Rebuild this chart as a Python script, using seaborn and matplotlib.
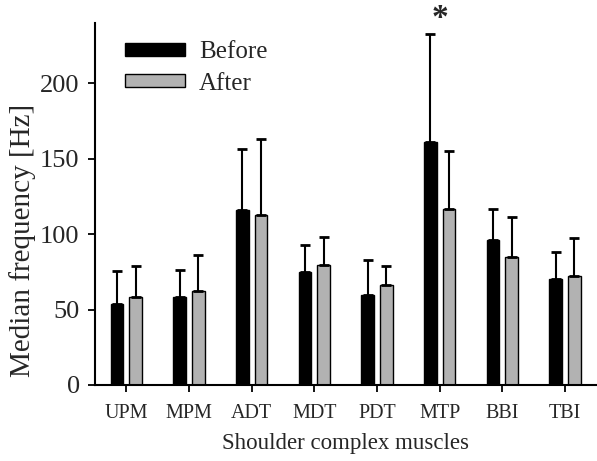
import numpy as np
import pandas as pd
import seaborn as sns
import matplotlib.pyplot as plt

muscles = ["UPM", "MPM", "ADT", "MDT", "PDT", "MTP", "BBI", "TBI"]
before_mean = [54, 58.5, 116, 75, 59.5, 161, 96, 70]
before_sd = [21.5, 18, 40.5, 17.5, 23.5, 71.5, 20.5, 18]
after_mean = [58.5, 62, 113, 79.5, 66, 117, 85, 72.5]
after_sd = [20.5, 24, 50, 18.5, 13, 38, 26.5, 25]

df = pd.DataFrame({
    "muscle": muscles * 2,
    "freq": before_mean + after_mean,
    "sd": before_sd + after_sd,
    "cond": ["Before"] * 8 + ["After"] * 8,
})

sns.set_style("ticks")
plt.rcParams["font.family"] = ["Liberation Serif", "DejaVu Serif"]

fig = plt.figure(figsize=(5.97, 4.61), dpi=100)
ax = fig.add_axes([0.159, 0.165, 0.84, 0.785])

sns.barplot(data=df, x="muscle", y="freq", hue="cond", order=muscles,
            hue_order=["Before", "After"], palette=["black", "#b2b2b2"],
            width=0.6, gap=0.33, edgecolor="black", linewidth=1,
            errorbar=None, ax=ax)

# one-sided error bars on top of each bar
for cont, sds in zip(ax.containers, [before_sd, after_sd]):
    xs = [p.get_x() + p.get_width() / 2 for p in cont.patches]
    ys = [p.get_height() for p in cont.patches]
    ax.errorbar(xs, ys, yerr=[np.zeros(len(sds)), sds], fmt="none",
                ecolor="black", elinewidth=1.5, capsize=3.6, capthick=2)

# significance star over MTP
ax.text(5, 243, "*", ha="center", va="center", fontsize=24,
        fontweight="bold", clip_on=False)

ax.set_ylim(0, 240)
ax.set_xlim(-0.5, 7.5)
ax.set_yticks([0, 50, 100, 150, 200])
ax.set_xlabel("Shoulder complex muscles", fontsize=16.5, labelpad=7)
ax.set_ylabel("Median frequency [Hz]", fontsize=21)
ax.yaxis.set_label_coords(-0.118, 0.40)
ax.tick_params(axis="y", labelsize=19, width=1.3, length=5, color="black",
               pad=6)
ax.tick_params(axis="x", labelsize=14.5, width=1.3, length=5, color="black",
               pad=9)
for s in ["top", "right"]:
    ax.spines[s].set_visible(False)
for s in ["left", "bottom"]:
    ax.spines[s].set_linewidth(1.5)
    ax.spines[s].set_color("black")

ax.legend(loc="upper left", bbox_to_anchor=(0.06, 0.95), frameon=False,
          fontsize=18, handlelength=2.4, handleheight=0.45, borderpad=0,
          borderaxespad=0, labelspacing=0.38, handletextpad=0.55)

fig.savefig("out.png", dpi=100)
